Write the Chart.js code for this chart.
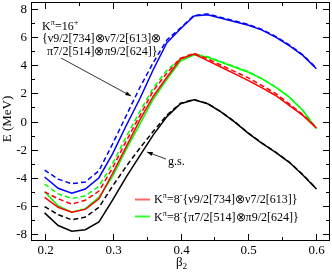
<!DOCTYPE html>
<html>
<head>
<meta charset="utf-8">
<script src="https://cdn.jsdelivr.net/npm/chart.js@4.4.0/dist/chart.umd.min.js"></script>
<style>
  html, body { margin: 0; padding: 0; background: #fff; }
</style>
</head>
<body>
<canvas id="c" width="332" height="274"></canvas>
<script>
// deformation beta2 and energies (MeV)
const beta = [0.20, 0.22, 0.24, 0.26, 0.28, 0.30, 0.32, 0.34, 0.36, 0.38, 0.40,
              0.42, 0.44, 0.46, 0.48, 0.50, 0.52, 0.54, 0.56, 0.58, 0.60];

const k16Solid  = [-3.95, -4.75, -5.10, -4.80, -4.00, -2.30, -0.30, 1.60, 3.70, 5.60, 6.60,
                   7.50, 7.60, 7.35, 7.10, 6.85, 6.50, 6.00, 5.40, 4.70, 3.75];
const k16Dashed = [-3.45, -4.10, -4.43, -4.30, -3.50, -1.60, 0.40, 2.40, 4.20, 5.80, 6.65,
                   7.55, 7.65, 7.40, 7.15, 6.90, 6.55, 6.05, 5.45, 4.75, 3.80];
const nuSolid   = [-5.40, -6.10, -6.45, -6.25, -5.50, -3.70, -1.80, 0.10, 1.80, 3.15, 4.45,
                   4.80, 4.33, 3.86, 3.39, 2.91, 2.39, 1.85, 1.14, 0.43, -0.45];
const nuDashed  = [-5.00, -5.50, -5.87, -5.60, -4.95, -3.30, -1.40, 0.40, 2.20, 3.45, 4.50,
                   4.85, 4.45, 4.00, 3.55, 3.10, 2.55, 2.00, 1.25, 0.50, -0.45];
const piSolid   = [-5.00, -6.00, -6.45, -6.20, -5.40, -3.90, -2.00, -0.20, 1.60, 3.00, 4.30,
                   4.75, 4.57, 4.21, 3.86, 3.50, 3.03, 2.44, 1.73, 0.78, -0.52];
const piDashed  = [-4.45, -5.15, -5.47, -5.30, -4.60, -3.00, -1.10, 0.70, 2.40, 3.65, 4.45,
                   4.80, 4.60, 4.25, 3.90, 3.55, 3.05, 2.45, 1.75, 0.80, -0.50];
const gsSolid   = [-6.50, -7.40, -7.80, -7.70, -7.15, -5.60, -3.95, -2.45, -0.95, 0.35, 1.26,
                   1.54, 1.26, 0.66, -0.05, -0.85, -1.55, -2.20, -2.90, -3.80, -4.80];
const gsDashed  = [-6.05, -6.63, -7.00, -6.80, -6.10, -4.60, -3.20, -1.90, -0.70, 0.45, 1.30,
                   1.56, 1.28, 0.68, -0.03, -0.83, -1.53, -2.18, -2.88, -3.78, -4.78];

// tick positions (labels only on major ones)
const xTicks = [0.20, 0.25, 0.30, 0.35, 0.40, 0.45, 0.50, 0.55, 0.60];
const xTicksMajor = [0.2, 0.3, 0.4, 0.5, 0.6];
const yTicks = [-8, -7, -6, -5, -4, -3, -2, -1, 0, 1, 2, 3, 4, 5, 6, 7, 8];
const yTicksMajor = [-8, -6, -4, -2, 0, 2, 4, 6, 8];

const serif = '"Liberation Serif", "Times New Roman", serif';

function line(label, vals, color, dashed) {
  return {
    label: label,
    data: beta.map((b, i) => ({ x: b, y: vals[i] })),
    borderColor: color,
    borderWidth: 1.5,
    borderDash: dashed ? [5, 3] : [],
    pointRadius: 0,
    tension: 0,
    fill: false
  };
}

function near(list, v) {
  return list.some(t => Math.abs(t - v) < 1e-6);
}

// draws text pieces with super/subscripts, returns end x
function rich(ctx, parts, x, y, size) {
  parts.forEach(p => {
    let s = size, dy = 0;
    if (p[1] === 'sup') { s = size * 0.7; dy = -size * 0.38; }
    if (p[1] === 'sub') { s = size * 0.7; dy = size * 0.25; }
    ctx.font = s + 'px ' + serif;
    ctx.fillText(p[0], x, y + dy);
    x += ctx.measureText(p[0]).width;
  });
  return x;
}

function arrow(ctx, x1, y1, x2, y2) {
  ctx.beginPath();
  ctx.moveTo(x1, y1);
  ctx.lineTo(x2, y2);
  ctx.stroke();
  const a = Math.atan2(y2 - y1, x2 - x1);
  ctx.beginPath();
  ctx.moveTo(x2, y2);
  ctx.lineTo(x2 - 6 * Math.cos(a - 0.35), y2 - 6 * Math.sin(a - 0.35));
  ctx.lineTo(x2 - 6 * Math.cos(a + 0.35), y2 - 6 * Math.sin(a + 0.35));
  ctx.closePath();
  ctx.fill();
}

const decor = {
  id: 'decor',
  afterDraw(chart) {
    const ctx = chart.ctx;
    const a = chart.chartArea;
    const xs = chart.scales.x, ys = chart.scales.y;
    ctx.save();
    ctx.strokeStyle = '#000';
    ctx.fillStyle = '#000';
    ctx.lineWidth = 1;
    ctx.strokeRect(a.left + 0.5, a.top + 0.5, a.right - a.left - 1, a.bottom - a.top - 1);

    // inward ticks on all four sides, with labels on the major ones
    ctx.font = '13px ' + serif;
    ctx.beginPath();
    xTicks.forEach(v => {
      const px = Math.round(xs.getPixelForValue(v)) + 0.5;
      const major = near(xTicksMajor, v);
      const len = major ? 7 : 4;
      ctx.moveTo(px, a.bottom); ctx.lineTo(px, a.bottom - len);
      ctx.moveTo(px, a.top); ctx.lineTo(px, a.top + len);
      if (major) {
        ctx.textAlign = 'center';
        ctx.textBaseline = 'middle';
        ctx.fillText(v.toFixed(1), px, a.bottom + 10);
      }
    });
    yTicks.forEach(v => {
      const py = Math.round(ys.getPixelForValue(v)) + 0.5;
      const major = near(yTicksMajor, v);
      const len = major ? 7 : 4;
      ctx.moveTo(a.left, py); ctx.lineTo(a.left + len, py);
      ctx.moveTo(a.right, py); ctx.lineTo(a.right - len, py);
      if (major) {
        ctx.textAlign = 'right';
        ctx.textBaseline = 'middle';
        ctx.fillText(String(v), a.left - 4, py);
      }
    });
    ctx.stroke();

    // axis titles
    ctx.textBaseline = 'alphabetic';
    ctx.textAlign = 'left';
    rich(ctx, [['\u03b2'], ['2', 'sub']], 176, 266, 13);
    ctx.save();
    ctx.translate(11, 119);
    ctx.rotate(-Math.PI / 2);
    ctx.textAlign = 'center';
    ctx.font = '13px ' + serif;
    ctx.fillText('E (MeV)', 0, 0);
    ctx.restore();

    // annotations
    rich(ctx, [['K'], ['\u03c0', 'sup'], ['=16'], ['+', 'sup']], 42, 30, 12);
    rich(ctx, [['{\u03bd9/2[734]\u2297\u03bd7/2[613]\u2297']], 42, 42, 12);
    rich(ctx, [['\u03c07/2[514]\u2297\u03c09/2[624]}']], 47, 55, 12);
    ctx.lineWidth = 0.8;
    arrow(ctx, 61, 58, 131, 96);
    rich(ctx, [['g.s.']], 168, 165, 12);
    arrow(ctx, 166, 159, 147, 152);

    // legend
    ctx.lineWidth = 2;
    ctx.strokeStyle = '#ff6666';
    ctx.beginPath(); ctx.moveTo(135, 199.5); ctx.lineTo(150, 199.5); ctx.stroke();
    ctx.strokeStyle = '#33ff33';
    ctx.beginPath(); ctx.moveTo(135, 216.5); ctx.lineTo(150, 216.5); ctx.stroke();
    rich(ctx, [['K'], ['\u03c0', 'sup'], ['=8'], ['-', 'sup'], ['{\u03bd9/2[734]\u2297\u03bd7/2[613]}']], 154, 203, 12);
    rich(ctx, [['K'], ['\u03c0', 'sup'], ['=8'], ['-', 'sup'], ['{\u03c07/2[514]\u2297\u03c09/2[624]}']], 154, 221, 12);
    ctx.restore();
  }
};

new Chart(document.getElementById('c'), {
  type: 'line',
  data: {
    datasets: [
      line('16+ solid', k16Solid, '#0000ff', false),
      line('16+ dashed', k16Dashed, '#0000ff', true),
      line('nu solid', nuSolid, '#ff0000', false),
      line('nu dashed', nuDashed, '#ff0000', true),
      line('pi solid', piSolid, '#00ff00', false),
      line('pi dashed', piDashed, '#00ff00', true),
      line('gs solid', gsSolid, '#000000', false),
      line('gs dashed', gsDashed, '#000000', true)
    ]
  },
  options: {
    responsive: false,
    animation: false,
    devicePixelRatio: 1,
    layout: { padding: { left: 0, right: 2, top: 2, bottom: 0 } },
    plugins: { legend: { display: false }, tooltip: { enabled: false } },
    scales: {
      x: {
        type: 'linear', min: 0.18, max: 0.62,
        grid: { display: false, drawTicks: false },
        border: { display: false },
        ticks: { display: false },
        afterFit: s => { s.height = 33; }
      },
      y: {
        type: 'linear', min: -8.5, max: 8.5,
        grid: { display: false, drawTicks: false },
        border: { display: false },
        ticks: { display: false },
        afterFit: s => { s.width = 31; }
      }
    }
  },
  plugins: [decor]
});
</script>
</body>
</html>
